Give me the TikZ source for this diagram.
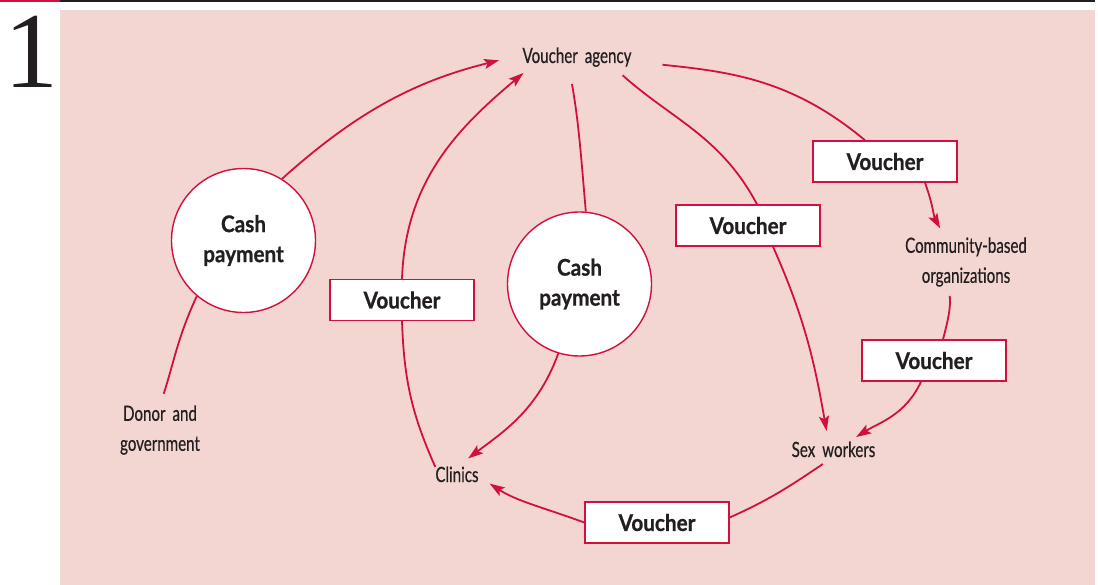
\documentclass[tikz,border=0pt]{standalone}
\usepackage{fontspec}
\setmainfont{Liberation Serif}
\newfontfamily\condfont[FakeStretch=0.72,WordSpace=1.8,FakeBold=0.5]{Lato}
\newfontfamily\boldfont[FakeStretch=0.9,FakeBold=0.8]{Lato}
\usetikzlibrary{arrows.meta}
\definecolor{vred}{RGB}{210,16,62}
\definecolor{vpink}{RGB}{243,214,209}
\definecolor{vink}{RGB}{35,31,32}

\begin{document}
\begin{tikzpicture}[x=1pt,y=-1pt,
    link/.style={draw=vred,line width=1.8pt},
    flow/.style={link,-{Stealth[length=15pt,width=10pt,inset=3pt]}},
    place/.style={inner sep=0pt,text=vink,font=\condfont\fontsize{21}{30}\selectfont},
    oneline/.style={text height=15pt,text depth=4pt},
    ticket/.style={draw=vred,line width=1.4pt,fill=white,minimum width=144pt,minimum height=41pt,
      inner sep=0pt,text=vink,font=\boldfont\bfseries\fontsize{23}{28}\selectfont},
    cash/.style={circle,draw=vred,line width=1.4pt,fill=white,minimum size=144pt,inner sep=0pt,
      align=center,text=vink,font=\boldfont\bfseries\fontsize{23}{30}\selectfont}]
    \useasboundingbox (0,0) rectangle (1098,585);
    \fill[vpink] (60,10) rectangle (1095,585);
    \draw[vred,line width=2.5pt] (0,1.2) -- (60,1.2);
    \draw[vink,line width=2.5pt] (60,1.2) -- (1095,1.2);
    \node[anchor=base,inner sep=0pt,text=vink,font=\fontsize{108}{108}\selectfont] (num) at (31.5,88) {1};

    \node[place,oneline] (agency) at (577,57.5) {Voucher agency};
    \node[place,align=center] (donor) at (160,430) {Donor and\\government};
    \node[place,align=center] (cbo) at (966,262) {Community-based\\organizations};
    \node[place,oneline] (sexw) at (833.5,451.5) {Sex workers};
    \node[place,oneline] (clinics) at (457,476.5) {Clinics};

    \node[cash] (cash1) at (243.5,240.5) {Cash\\payment};
    \node[cash] (cash2) at (579.5,284) {Cash\\payment};
    \node[ticket] (v1) at (402,300) {Voucher};
    \node[ticket] (v2) at (748,225.5) {Voucher};
    \node[ticket] (v3) at (885,161.5) {Voucher};
    \node[ticket] (v4) at (934,360.5) {Voucher};
    \node[ticket] (v5) at (657,522.5) {Voucher};

    \draw[link,shorten <=12pt] (donor.north) to[out=72,in=245] (cash1.230);
    \draw[flow,shorten >=24pt] (cash1.58) to[out=42,in=194] ([yshift=3pt]agency.west);
    \draw[link] (clinics.north west) to[out=114,in=-88] (v1.south);
    \draw[flow,shorten >=9pt] (v1.north) to[out=88,in=220] ([xshift=8pt]agency.south west);
    \draw[link,shorten <=17pt] ([xshift=-8pt]agency.south) to[out=-80,in=95] (cash2.85);
    \draw[flow,shorten >=14pt] (cash2.253) to[out=250,in=37] (clinics.north);
    \draw[link,shorten <=12pt] ([xshift=-18pt]agency.south east) to[out=-42,in=118] ([xshift=9pt]v2.north);
    \draw[flow,shorten >=11pt] ([xshift=25pt]v2.south) to[out=-66,in=100] ([xshift=-5pt]sexw.north);
    \draw[link,shorten <=31pt] ([yshift=-4pt]agency.east) to[out=-6,in=140] ([xshift=-20pt]v3.north);
    \draw[flow,shorten >=10pt] ([xshift=40pt]v3.south) to[out=-70,in=119] ([xshift=-21pt]cbo.north);
    \draw[link,shorten <=9pt] ([xshift=-17pt]cbo.south) to[out=-85,in=75] ([xshift=9pt]v4.north);
    \draw[flow,shorten >=9pt] ([xshift=-13pt]v4.south) to[out=245,in=32] ([xshift=15pt]sexw.north);
    \draw[link,shorten <=5pt] ([xshift=-6.5pt]sexw.south) to[out=214,in=24] ([yshift=5pt]v5.east);
    \draw[flow,shorten >=13pt] (v5.west) to[out=160,in=-33] (clinics.east);
\end{tikzpicture}
\end{document}
